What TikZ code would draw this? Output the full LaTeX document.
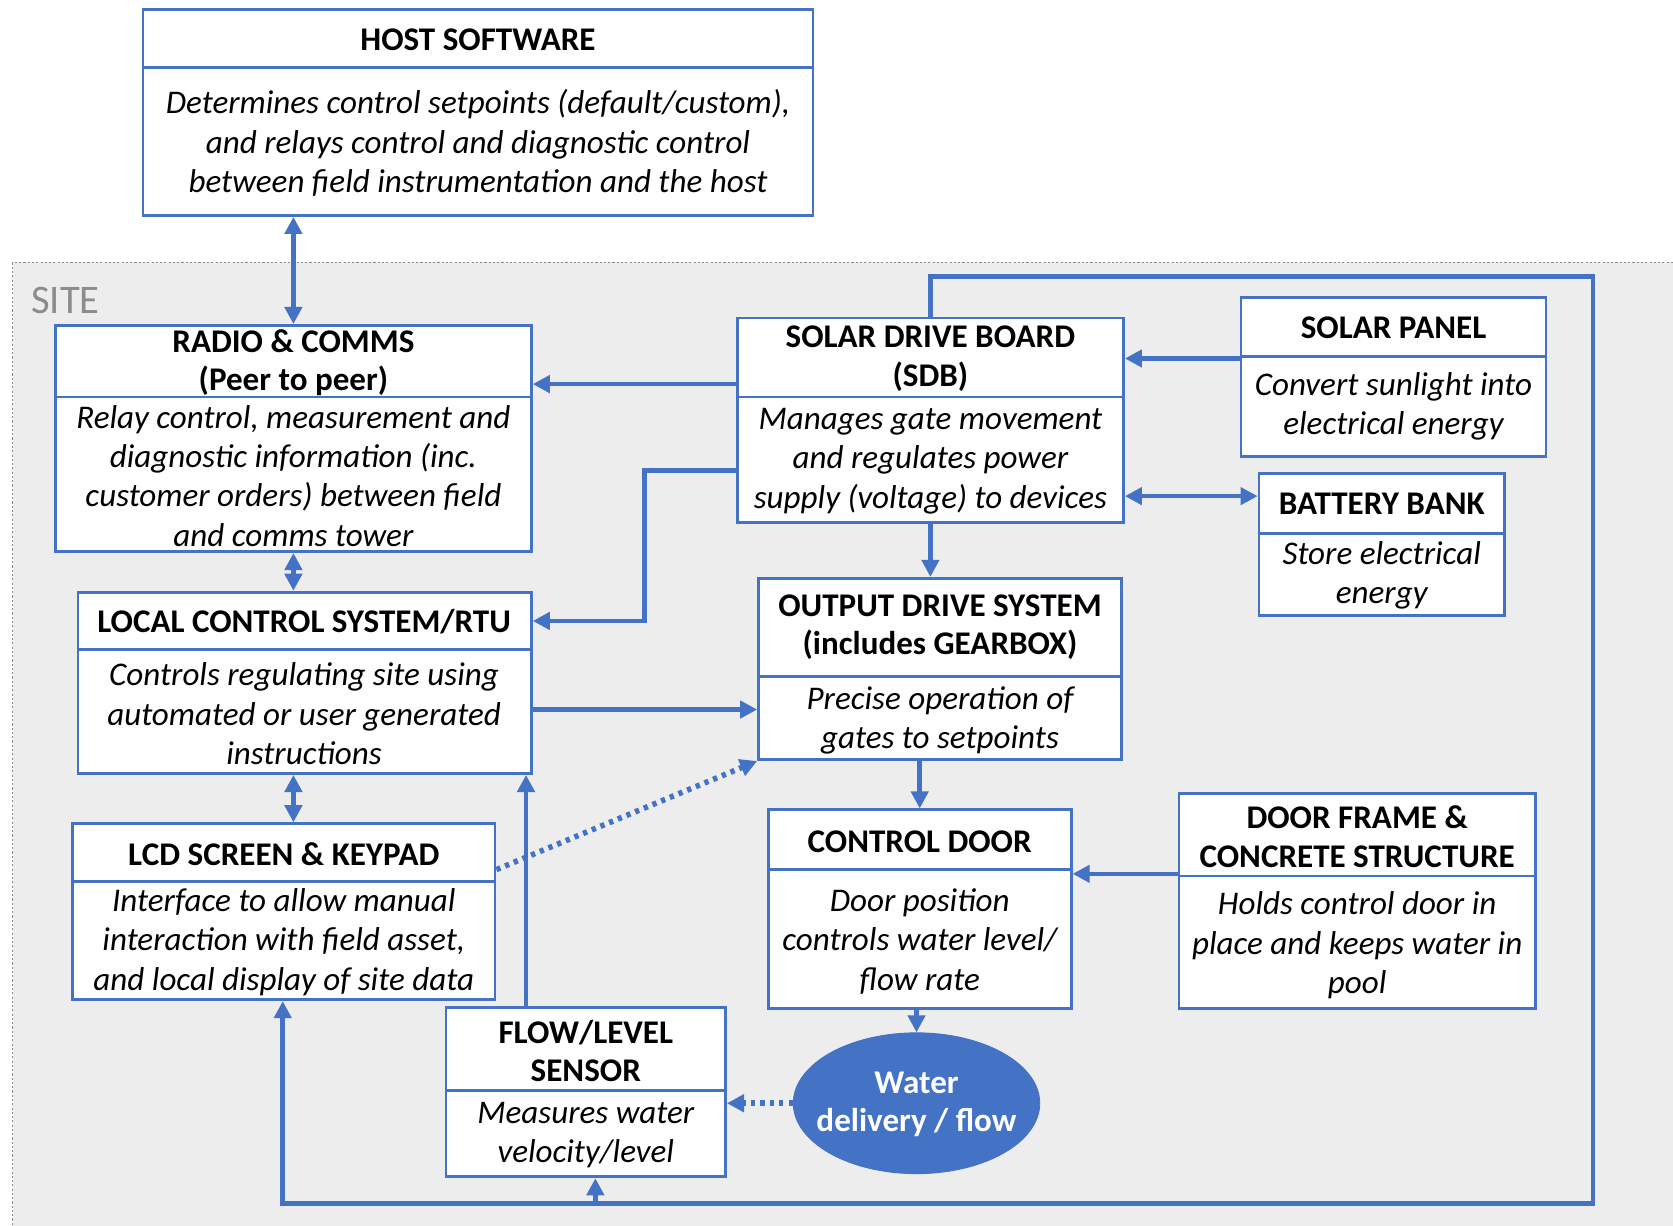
\documentclass[tikz,border=0pt]{standalone}
\usepackage{fontspec}
\setmainfont{Carlito}
\usetikzlibrary{arrows.meta,fit,shapes.geometric}

\definecolor{obl}{HTML}{4472C4}
\definecolor{sitebg}{HTML}{EDEDED}
\definecolor{sitegray}{HTML}{8C8C8C}

\begin{document}
\begin{tikzpicture}[x=0.5pt,y=-0.5pt,
  blk/.style={draw=obl, line width=1.3pt, fill=white, inner sep=0pt},
  divider/.style={draw=obl, line width=1.3pt},
  hdr/.style={font=\bfseries\fontsize{15.5}{18}\selectfont, align=center, inner sep=0pt},
  txt/.style={font=\itshape\fontsize{15.5}{18.5}\selectfont, align=center, inner sep=0pt},
  tip/.tip={Triangle[length=8pt,width=8pt]},
  link/.style={draw=obl, line width=2.1pt, -tip},
  dlink/.style={draw=obl, line width=2.1pt, tip-tip},
  dotlink/.style={draw=obl, line width=2.6pt, dash pattern=on 2pt off 2.4pt, -tip},
  looplink/.style={draw=obl, line width=2.3pt, -tip},
]
\useasboundingbox (0,0) rectangle (1568,1149);
\fill[white] (0,0) rectangle (1568,1149);

% site area
\fill[sitebg] (12,246) rectangle (1568,1149);
\draw[sitegray, line width=0.6pt, dash pattern=on 1pt off 1pt] (1568,246) -- (12,246) -- (12,1149);
\node[font=\fontsize{19}{22}\selectfont, text=sitegray, anchor=west, inner sep=0pt] (sitelbl) at (29,282) {SITE};

% boxes
\node[blk, fit={(134,9)(762,202)}] (host) {};
\draw[divider] (host.west |- 0,63) -- (host.east |- 0,63);
\node[hdr] (hostT) at (448,37) {HOST SOFTWARE};
\node[txt] (hostB) at (448,134) {Determines control setpoints (default/custom),\\and relays control and diagnostic control\\between field instrumentation and the host};

\node[blk, fit={(52,305)(498,517)}] (radio) {};
\draw[divider] (radio.west |- 0,372) -- (radio.east |- 0,372);
\node[hdr] (radioT) at (275,340) {RADIO \& COMMS\\(Peer to peer)};
\node[txt] (radioB) at (275,446) {Relay control, measurement and\\diagnostic information (inc.\\customer orders) between field\\and comms tower};

\node[blk, fit={(691,298)(1053,490)}] (sdb) {};
\draw[divider] (sdb.west |- 0,372) -- (sdb.east |- 0,372);
\node[hdr] (sdbT) at (872,336) {SOLAR DRIVE BOARD\\(SDB)};
\node[txt] (sdbB) at (872,432) {Manages gate movement\\and regulates power\\supply (voltage) to devices};

\node[blk, fit={(1163,279)(1449,428)}] (panel) {};
\draw[divider] (panel.west |- 0,334) -- (panel.east |- 0,334);
\node[hdr] (panelT) at (1306,307) {SOLAR PANEL};
\node[txt] (panelB) at (1306,381) {Convert sunlight into\\electrical energy};

\node[blk, fit={(1180,444)(1410,577)}] (batt) {};
\draw[divider] (batt.west |- 0,500) -- (batt.east |- 0,500);
\node[hdr] (battT) at (1295,472) {BATTERY BANK};
\node[txt] (battB) at (1295,539) {Store electrical\\energy};

\node[blk, fit={(73,555)(498,725)}] (local) {};
\draw[divider] (local.west |- 0,609) -- (local.east |- 0,609);
\node[hdr] (localT) at (285,583) {LOCAL CONTROL SYSTEM/RTU};
\node[txt] (localB) at (285,669) {Controls regulating site using\\automated or user generated\\instructions};

\node[blk, fit={(711,542)(1051,712)}] (out) {};
\draw[divider] (out.west |- 0,634) -- (out.east |- 0,634);
\node[hdr] (outT) at (881,588) {OUTPUT DRIVE SYSTEM\\(includes GEARBOX)};
\node[txt] (outB) at (881,675) {Precise operation of\\gates to setpoints};

\node[blk, fit={(68,772)(464,937)}] (lcd) {};
\draw[divider] (lcd.west |- 0,826) -- (lcd.east |- 0,826);
\node[hdr] (lcdT) at (266,801) {LCD SCREEN \& KEYPAD};
\node[txt] (lcdB) at (266,883) {Interface to allow manual\\interaction with field asset,\\and local display of site data};

\node[blk, fit={(720,759)(1004,945)}] (door) {};
\draw[divider] (door.west |- 0,815) -- (door.east |- 0,815);
\node[hdr] (doorT) at (862,789) {CONTROL DOOR};
\node[txt] (doorB) at (862,882) {Door position\\controls water level/\\flow rate};

\node[blk, fit={(1105,744)(1439,945)}] (frame) {};
\draw[divider] (frame.west |- 0,821) -- (frame.east |- 0,821);
\node[hdr] (frameT) at (1272,784) {DOOR FRAME \&\\CONCRETE STRUCTURE};
\node[txt] (frameB) at (1272,886) {Holds control door in\\place and keeps water in\\pool};

\node[blk, fit={(418,944)(680,1103)}] (flow) {};
\draw[divider] (flow.west |- 0,1022) -- (flow.east |- 0,1022);
\node[hdr] (flowT) at (549,985) {FLOW/LEVEL\\SENSOR};
\node[txt] (flowB) at (549,1064) {Measures water\\velocity/level};

\node[ellipse, draw=obl, fill=obl, minimum width=115.5pt, minimum height=66pt, inner sep=0pt] (water) at (859,1034) {};
\node[hdr, text=white] (waterT) at (859,1035) {Water\\delivery / flow};

% connectors
\draw[dlink] (275,0 |- host.south) -- (275,0 |- radio.north);
\draw[link] (sdb.west |- 0,360) -- (radio.east |- 0,360);
\draw[link] (sdb.west |- 0,441) -| (604,582) -- (local.east |- 0,582);
\draw[link] (panel.west |- 0,336) -- (sdb.east |- 0,336);
\draw[dlink] (sdb.east |- 0,465) -- (batt.west |- 0,465);
\draw[link] (872,0 |- sdb.south) -- (872,0 |- out.north);
\draw[dlink] (275,0 |- radio.south) -- (275,0 |- local.north);
\draw[link] (local.east |- 0,665) -- (out.west |- 0,665);
\draw[dlink] (275,0 |- local.south) -- (275,0 |- lcd.north);
\draw[dotlink] (lcd.east |- 0,815) -- (out.south west);
\draw[link] (493,0 |- flow.north) -- (493,0 |- local.south);
\draw[link] (862,0 |- out.south) -- (862,0 |- door.north);
\draw[link] (frame.west |- 0,819) -- (door.east |- 0,819);
\draw[link] (859,0 |- door.south) -- (water.north);
\draw[dotlink] (water.west) -- (flow.east |- water.west);

% power/data loop from the drive board round the site
\coordinate (tap) at (558,1128);
\draw[looplink] (872,0 |- sdb.north) |- (1493,259) |- (265,1128) -- (265,0 |- lcd.south);
\draw[looplink] (tap) -- (558,0 |- flow.south);
\end{tikzpicture}
\end{document}
